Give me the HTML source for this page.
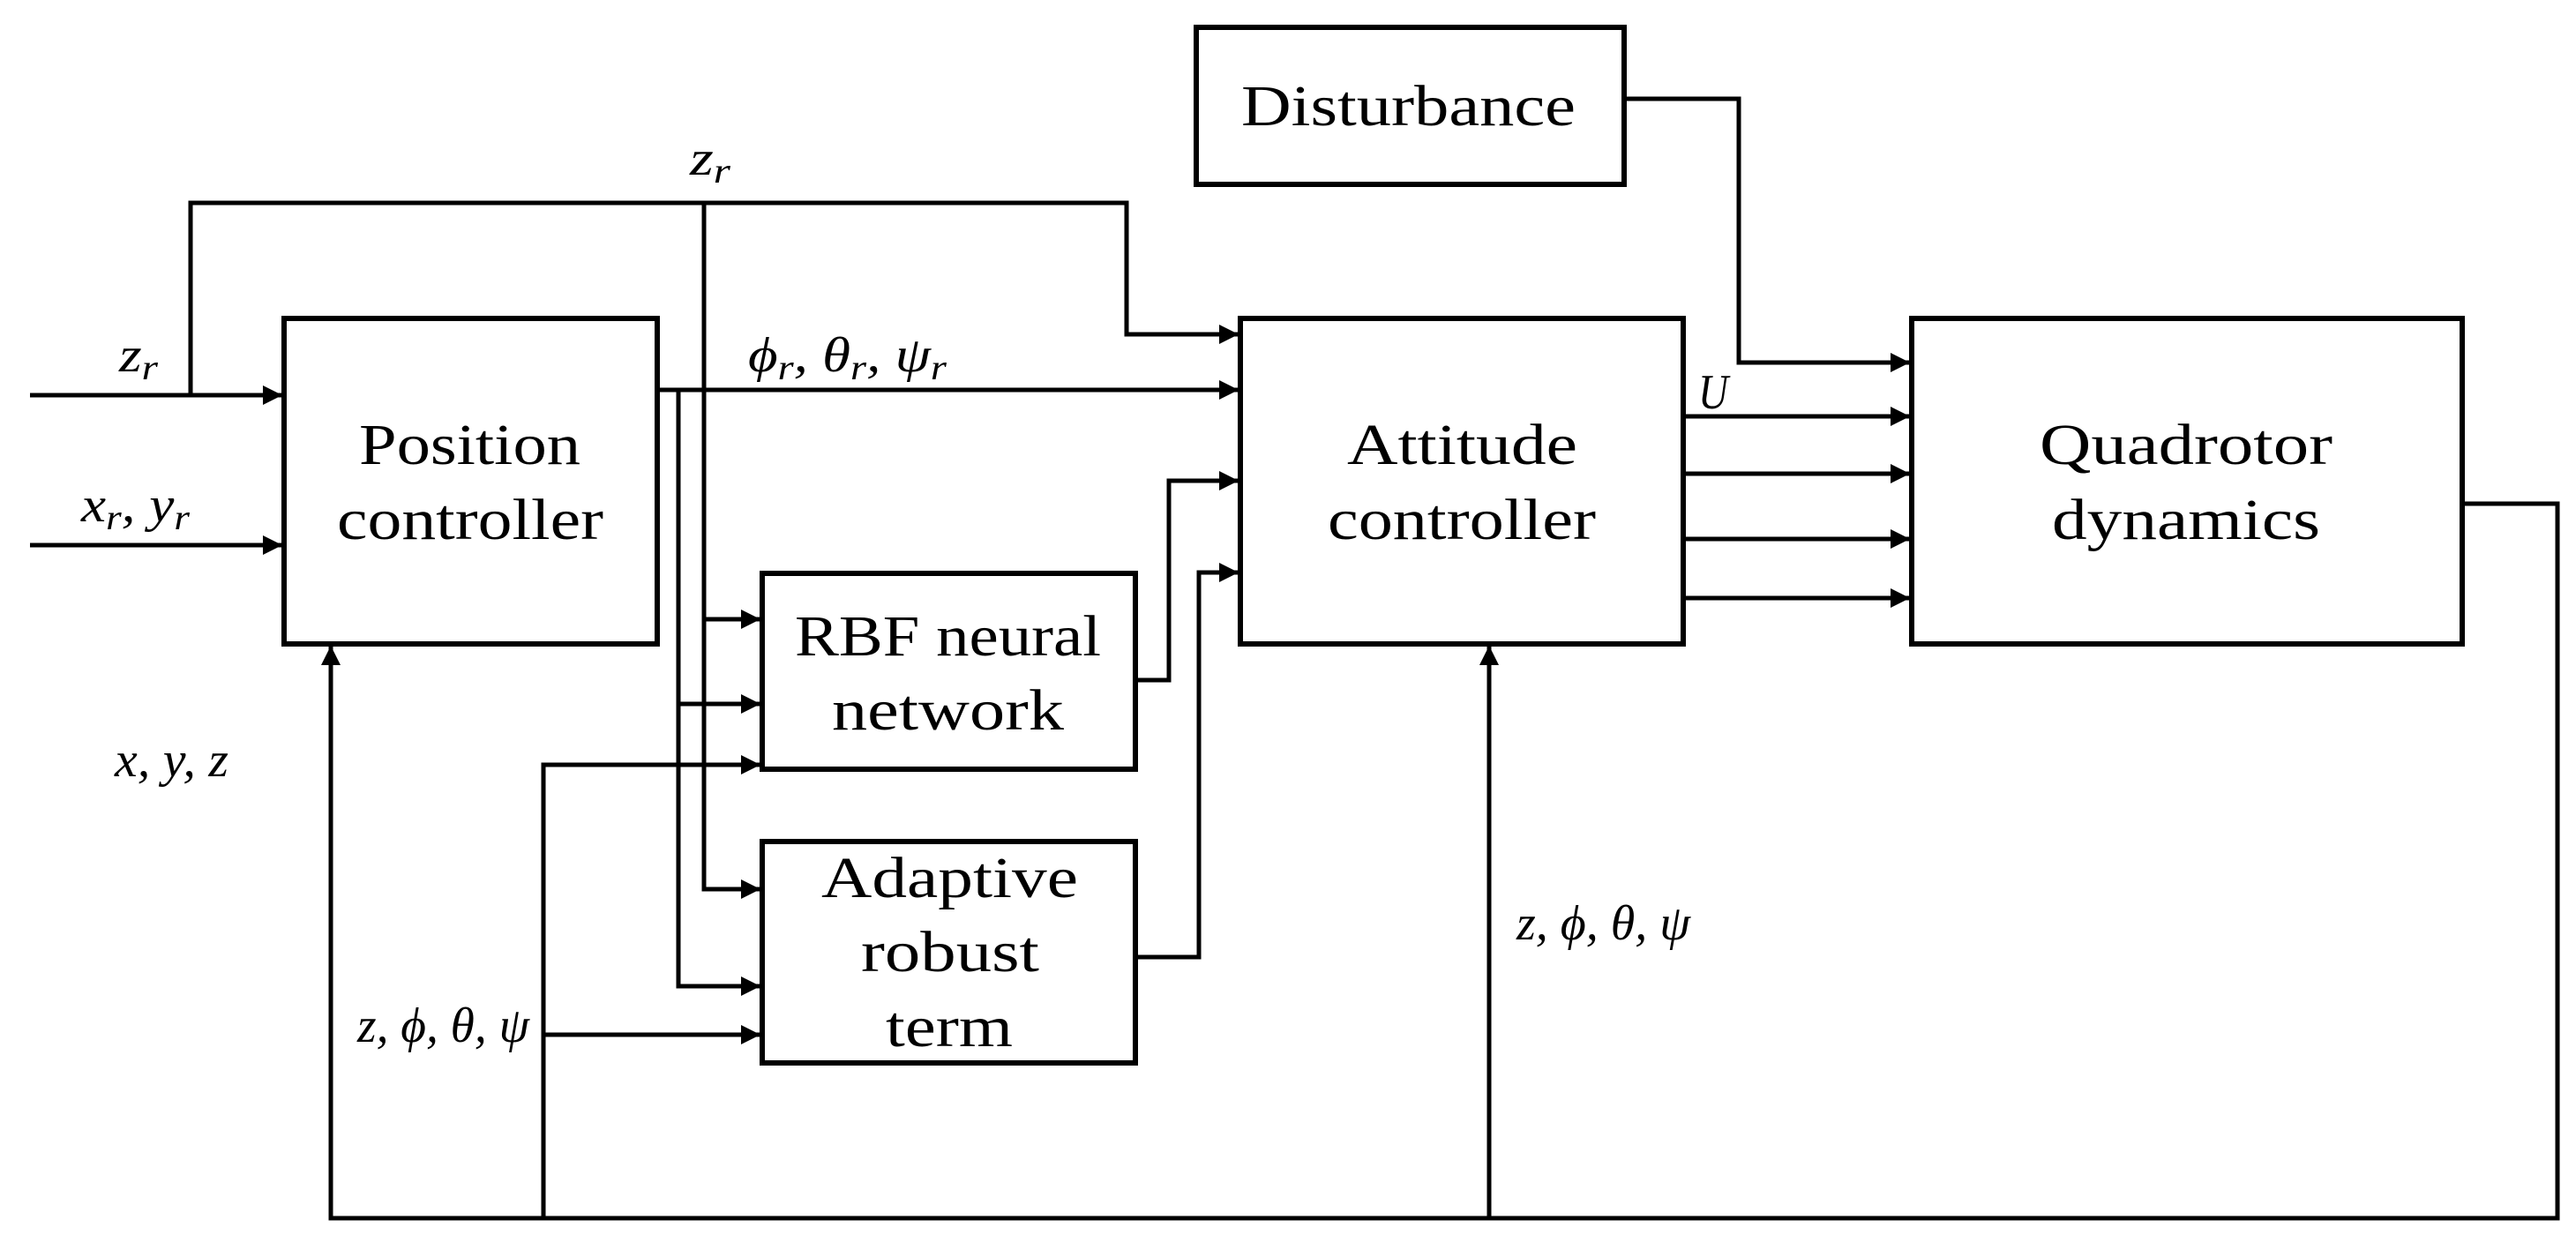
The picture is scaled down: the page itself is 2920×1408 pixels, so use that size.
<!DOCTYPE html>
<html><head><meta charset="utf-8"><style>html,body{margin:0;padding:0;background:#fff}svg{display:block}</style></head>
<body>
<svg width="2920" height="1408" viewBox="0 0 2920 1408" xmlns="http://www.w3.org/2000/svg">
<defs>
<marker id="a" markerUnits="userSpaceOnUse" markerWidth="24" markerHeight="24" refX="22" refY="11" orient="auto">
<path d="M0,0 L22,11 L0,22 Z" fill="#000"/>
</marker>
</defs>
<rect width="2920" height="1408" fill="#fff"/>
<g fill="none" stroke="#000" stroke-width="6">
<rect x="322" y="361" width="423" height="369"/>
<rect x="1356" y="31" width="485" height="178"/>
<rect x="1406" y="361" width="502" height="369"/>
<rect x="2167" y="361" width="624" height="369"/>
<rect x="864" y="650" width="423" height="222"/>
<rect x="864" y="954" width="423" height="251"/>
</g>
<g fill="none" stroke="#000" stroke-width="5">
<path d="M34,448 H320" marker-end="url(#a)"/>
<path d="M34,618 H320" marker-end="url(#a)"/>
<path d="M216,448 V230 H1277 V379 H1404" marker-end="url(#a)"/>
<path d="M745,442 H1404" marker-end="url(#a)"/>
<path d="M798,230 V1008 H862" marker-end="url(#a)"/>
<path d="M798,702 H862" marker-end="url(#a)"/>
<path d="M769,442 V1118 H862" marker-end="url(#a)"/>
<path d="M769,798 H862" marker-end="url(#a)"/>
<path d="M1287,771 H1325 V545 H1404" marker-end="url(#a)"/>
<path d="M1287,1085 H1359 V649 H1404" marker-end="url(#a)"/>
<path d="M1841,112 H1971 V411 H2165" marker-end="url(#a)"/>
<path d="M1908,472 H2165" marker-end="url(#a)"/>
<path d="M1908,537 H2165" marker-end="url(#a)"/>
<path d="M1908,611 H2165" marker-end="url(#a)"/>
<path d="M1908,678 H2165" marker-end="url(#a)"/>
<path d="M2791,571 H2899 V1381 H375 V732" marker-end="url(#a)"/>
<path d="M616,1381 V867 H862" marker-end="url(#a)"/>
<path d="M616,1173 H862" marker-end="url(#a)"/>
<path d="M1688,1381 V732" marker-end="url(#a)"/>
</g>
<g font-family="Liberation Serif, serif" font-size="66" fill="#000">
<text x="407" y="526" textLength="251" lengthAdjust="spacingAndGlyphs">Position</text>
<text x="382" y="611" textLength="302" lengthAdjust="spacingAndGlyphs">controller</text>
<text x="1407" y="142" textLength="379" lengthAdjust="spacingAndGlyphs">Disturbance</text>
<text x="1527" y="526" textLength="261" lengthAdjust="spacingAndGlyphs">Attitude</text>
<text x="1505" y="611" textLength="304" lengthAdjust="spacingAndGlyphs">controller</text>
<text x="2312" y="526" textLength="332" lengthAdjust="spacingAndGlyphs">Quadrotor</text>
<text x="2326" y="611" textLength="304" lengthAdjust="spacingAndGlyphs">dynamics</text>
<text x="901" y="743" textLength="347" lengthAdjust="spacingAndGlyphs">RBF neural</text>
<text x="943" y="827" textLength="263" lengthAdjust="spacingAndGlyphs">network</text>
<text x="931" y="1017" textLength="291" lengthAdjust="spacingAndGlyphs">Adaptive</text>
<text x="976" y="1101" textLength="202" lengthAdjust="spacingAndGlyphs">robust</text>
<text x="1004" y="1186" textLength="144" lengthAdjust="spacingAndGlyphs">term</text>
</g>
<g font-family="Liberation Serif, DejaVu Serif, serif" font-style="italic" font-size="56" fill="#000">
<text x="782" y="198" textLength="46" lengthAdjust="spacingAndGlyphs">z<tspan font-size="40" dy="9">r</tspan></text>
<text x="135" y="421" textLength="44" lengthAdjust="spacingAndGlyphs">z<tspan font-size="40" dy="9">r</tspan></text>
<text x="92" y="591" textLength="123" lengthAdjust="spacingAndGlyphs">x<tspan font-size="40" dy="9">r</tspan><tspan dy="-9">, y</tspan><tspan font-size="40" dy="9">r</tspan></text>
<text x="848" y="421" textLength="225" lengthAdjust="spacingAndGlyphs">ϕ<tspan font-size="40" dy="9">r</tspan><tspan dy="-9">, θ</tspan><tspan font-size="40" dy="9">r</tspan><tspan dy="-9">, ψ</tspan><tspan font-size="40" dy="9">r</tspan></text>
<text x="1925" y="463" textLength="34" lengthAdjust="spacingAndGlyphs">U</text>
<text x="130" y="880" textLength="129" lengthAdjust="spacingAndGlyphs">x, y, z</text>
<text x="405" y="1181" textLength="195" lengthAdjust="spacingAndGlyphs">z, ϕ, θ, ψ</text>
<text x="1719" y="1065" textLength="197" lengthAdjust="spacingAndGlyphs">z, ϕ, θ, ψ</text>
</g>
</svg>
</body></html>
